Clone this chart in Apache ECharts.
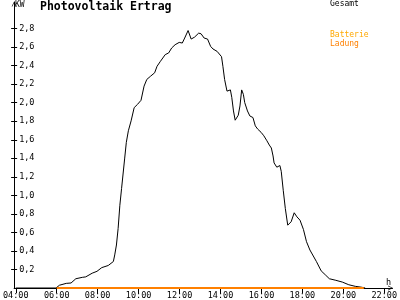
<!DOCTYPE html>
<html>
<head>
<meta charset="utf-8">
<script src="https://cdn.jsdelivr.net/npm/echarts@6/dist/echarts.min.js"></script>
<style>html,body{margin:0;padding:0;background:#fff;}#c{width:400px;height:300px;}</style>
</head>
<body>
<div id="c"></div>
<script>
// ---- data ----
const gesamtTimes = ['04:00','05:58','06:08','06:28','06:42','06:56','07:15','07:25','07:44','07:58','08:12','08:31','08:46','08:50','08:55','09:00','09:05','09:10','09:19','09:24','09:30','09:38','09:47','09:57','10:07','10:16','10:24','10:35','10:47','10:54','11:04','11:18','11:28','11:37','11:47','11:59','12:08','12:15','12:25','12:34','12:44','12:56','13:03','13:12','13:22','13:31','13:38','13:50','13:55','14:03','14:07','14:12','14:19','14:29','14:33','14:38','14:43','14:47','14:52','14:57','15:02','15:07','15:11','15:19','15:26','15:35','15:42','15:49','15:59','16:07','16:16','16:23','16:29','16:34','16:37','16:45','16:54','16:58','17:04','17:10','17:17','17:27','17:36','17:44','17:53','18:03','18:12','18:22','18:41','18:55','19:07','19:19','19:38','19:57','20:16','20:35','20:54','21:04'];
const gesamt = [0,0,0.03,0.05,0.054,0.10,0.115,0.12,0.16,0.18,0.22,0.243,0.286,0.357,0.464,0.643,0.893,1.072,1.393,1.572,1.697,1.804,1.947,1.983,2.026,2.179,2.251,2.286,2.323,2.393,2.447,2.519,2.537,2.591,2.626,2.651,2.644,2.698,2.779,2.687,2.708,2.751,2.744,2.698,2.687,2.608,2.580,2.554,2.537,2.497,2.393,2.251,2.125,2.138,2.058,1.911,1.811,1.811,1.865,1.965,2.138,2.090,2.001,1.911,1.857,1.840,1.750,1.715,1.680,1.643,1.589,1.543,1.511,1.425,1.350,1.304,1.322,1.259,1.050,0.857,0.678,0.715,0.812,0.768,0.732,0.632,0.50,0.41,0.286,0.185,0.143,0.10,0.083,0.064,0.035,0.018,0.008,0];
const ladungTimes = ['06:00','21:00'];
const ladung = [0,0];
const batterieTimes = [];
const batterie = [];
const xTickHours = [4,6,8,10,12,14,16,18,20,22];
const yTickValues = [0.2,0.4,0.6,0.8,1.0,1.2,1.4,1.6,1.8,2.0,2.2,2.4,2.6,2.8];

function toH(t){const p=t.split(':');return +p[0]+(+p[1])/60;}
function pairs(ts,vs){return ts.map((t,i)=>[toH(t),vs[i]]);}
function pad(n){return (n<10?'0':'')+n;}

const mono = 'DejaVu Sans Mono';
const chevron = 'path://M0,10 L5,0 L10,10 L8.6,10 L5,2.6 L1.4,10 Z';

const chart = echarts.init(document.getElementById('c'), null, {renderer:'canvas'});
chart.setOption({
  animation:false,
  backgroundColor:'#fff',
  title:[
    {text:'Photovoltaik Ertrag', left:40, top:1, padding:0, textStyle:{fontFamily:mono, fontSize:11.5, fontWeight:'bold', color:'#000'}},
    {text:'KW', left:15, top:1, padding:0, textStyle:{fontFamily:mono, fontSize:8, fontWeight:'normal', color:'#000'}},
    {text:'h', left:386, top:278, padding:0, textStyle:{fontFamily:mono, fontSize:8.5, fontWeight:'normal', color:'#000'}}
  ],
  legend:[
    {data:['Gesamt'], left:325, top:0, orient:'vertical', icon:'none', itemWidth:0, itemHeight:8, itemGap:1, padding:0,
     selectedMode:false, textStyle:{fontFamily:mono, fontSize:8, color:'#000'}},
    {data:[{name:'Batterie', textStyle:{color:'#ffa800'}},{name:'Ladung', textStyle:{color:'#ff8000'}}], left:325, top:31, orient:'vertical', icon:'none', itemWidth:0, itemHeight:8, itemGap:1, padding:0,
     selectedMode:false, textStyle:{fontFamily:mono, fontSize:8}}
  ],
  grid:{left:10, right:2, top:2, bottom:10, containLabel:false},
  xAxis:{
    type:'value', min:3.92, max:22.4,
    axisLine:{show:true, lineStyle:{color:'#000', width:1}, symbol:['none', chevron], symbolSize:[7,5], symbolOffset:[0,-2]},
    axisTick:{show:true, length:5, lineStyle:{color:'#000'}, customValues:xTickHours},
    axisLabel:{show:true, margin:3, fontFamily:mono, fontSize:8.5, color:'#000', customValues:xTickHours, formatter:v=>pad(Math.round(v))+':00'},
    splitLine:{show:false}
  },
  yAxis:[
    {type:'value', min:0, max:3.087,
     axisLine:{show:true, lineStyle:{color:'#000', width:1}, symbol:['none', chevron], symbolSize:[7,5], symbolOffset:[0,-2]},
     axisTick:{show:true, length:3, lineStyle:{color:'#000'}, customValues:yTickValues},
     axisLabel:{show:true, inside:true, margin:5, fontFamily:mono, fontSize:8.5, color:'#000', customValues:yTickValues, formatter:v=>v.toFixed(1).replace('.',',')},
     splitLine:{show:false}},
    {type:'value', min:0, max:3.087, position:'left',
     axisLine:{show:false},
     axisTick:{show:true, inside:true, length:3, lineStyle:{color:'#000'}, customValues:yTickValues},
     axisLabel:{show:false},
     splitLine:{show:false}}
  ],
  series:[
    {name:'Gesamt', type:'line', data:pairs(gesamtTimes,gesamt), showSymbol:false, symbol:'none', lineStyle:{color:'#000', width:1}, itemStyle:{color:'#000'}, z:2},
    {name:'Batterie', type:'line', data:pairs(batterieTimes,batterie), showSymbol:false, symbol:'none', lineStyle:{color:'#ffa800', width:2}, itemStyle:{color:'#ffa800'}, z:3},
    {name:'Ladung', type:'line', data:pairs(ladungTimes,ladung), showSymbol:false, symbol:'none', lineStyle:{color:'#ff8000', width:2}, itemStyle:{color:'#ff8000'}, z:4}
  ]
});
</script>
</body>
</html>
